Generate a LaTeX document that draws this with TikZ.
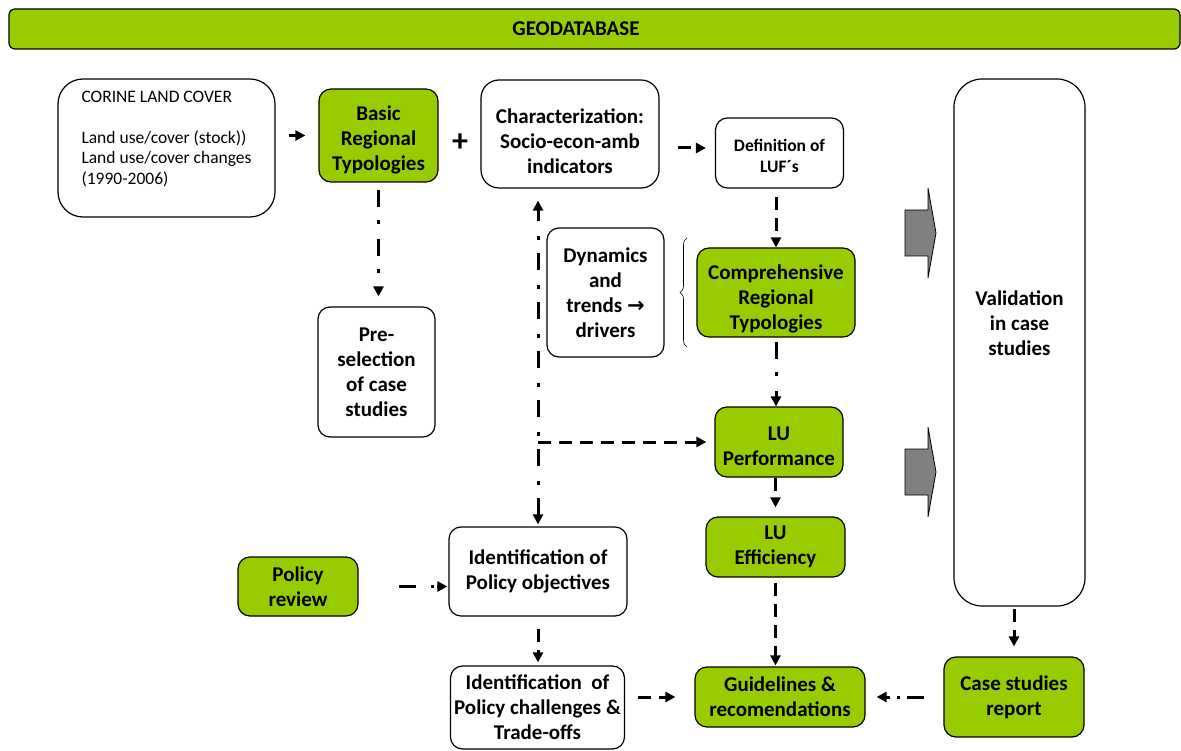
\documentclass[tikz,border=0pt]{standalone}
\usepackage{fontspec}
\setmainfont{Carlito}
\newfontfamily\symfont{DejaVu Sans}
\usetikzlibrary{arrows.meta, decorations.pathreplacing}
\definecolor{geoGreen}{RGB}{153,204,0}
\definecolor{geoGray}{RGB}{128,128,128}

\begin{document}
\begin{tikzpicture}[
    x=1pt, y=-1pt,
    box/.style={draw=black, line width=1.2pt, rounded corners=12pt, align=center, inner sep=0pt,
      font=\fontsize{21}{25}\selectfont\bfseries},
    greenbox/.style={box, fill=geoGreen},
    smallbox/.style={box, font=\fontsize{17.5}{21}\selectfont\bfseries},
    link/.style={line width=3pt, -{Triangle[width=10pt,length=10pt]}},
    dashlink/.style={link, dash pattern=on 13pt off 8pt},
    dotlink/.style={link, dash pattern=on 17pt off 13pt on 4pt off 15pt},
    blockarrow/.style={fill=geoGray, draw=black, line width=0.8pt}
  ]
  \useasboundingbox (0,0) rectangle (1181,751);

  \node[greenbox, rounded corners=6pt, minimum width=1171pt, minimum height=40pt] (geobar) at (594.5,29) {};
  \node[font=\fontsize{21}{24}\selectfont\bfseries] (geo) at (576,29) {GEODATABASE};

  \node[box, align=left, rounded corners=25pt, minimum width=217pt, minimum height=138pt,
    font=\fontsize{17.5}{20.5}\selectfont] (corine) at (166.5,148)
    {CORINE LAND COVER\\[20.5pt]Land use/cover (stock))\\Land use/cover changes\\(1990-2006)\\ \mbox{}};
  \node[greenbox, minimum width=119pt, minimum height=93pt] (basic) at (378.5,135.5)
    {\mbox{}\\[-1pt]Basic\\Regional\\Typologies};
  \node[font=\fontsize{32}{34}\selectfont\bfseries] (plus) at (460,143) {+};
  \node[box, rounded corners=18pt, minimum width=178pt, minimum height=108pt] (char) at (570,134)
    {\mbox{}\\[5pt]Characterization:\\Socio-econ-amb\\indicators};
  \node[smallbox, minimum width=128pt, minimum height=70pt] (luf) at (779.5,153)
    {\mbox{}\\[-2pt]Definition of\\LUF´s};
  \node[box, minimum width=117pt, minimum height=129pt] (dyn) at (605.5,292.5)
    {Dynamics\\and\\trends {\symfont\bfseries →}\\drivers};
  \node[greenbox, minimum width=158pt, minimum height=89pt] (comp) at (776,292.5)
    {\mbox{}\\[3pt]Comprehensive\\Regional\\Typologies};
  \node[box, minimum width=117pt, minimum height=130pt] (presel) at (376.5,372) {Pre-\\selection\\of case\\studies};
  \node[greenbox, minimum width=128pt, minimum height=70pt] (perf) at (779,442) {\mbox{}\\[-3pt]LU\\Performance};
  \node[greenbox, minimum width=139pt, minimum height=60pt] (eff) at (775.5,547) {LU\\Efficiency};
  \node[greenbox, minimum width=120pt, minimum height=59pt] (policy) at (298,586.5) {Policy\\review};
  \node[box, minimum width=178pt, minimum height=89pt] (ident) at (538,571.5) {Identification of\\Policy objectives};
  \node[box, minimum width=174pt, minimum height=83pt] (chall) at (537.5,707.5)
    {Identification\ \ of\\Policy challenges \&\\Trade-offs};
  \node[greenbox, minimum width=170pt, minimum height=60pt] (guide) at (780,697) {Guidelines \&\\recomendations};
  \node[box, rounded corners=28pt, minimum width=131pt, minimum height=527pt] (valid) at (1019.5,342.5)
    {Validation\\in case\\studies\\[13pt]\mbox{}};
  \node[greenbox, minimum width=140pt, minimum height=80pt] (report) at (1014,697) {Case studies\\report};

  % grey block arrows towards the validation
  \foreach \ay in {233,472}
    \draw[blockarrow] (905,\ay-23) -- ++(23,0) -- ++(0,-22) -- ++(8,45) -- ++(-8,45) -- ++(0,-22) -- ++(-23,0) -- cycle;

  \draw[line width=0.6pt, decorate, decoration={brace, amplitude=7pt}] (687,347) -- (687,238);

  \draw[link, shorten <=13pt, shorten >=13pt] (corine.east |- basic) -- (basic);
  \draw[dashlink, shorten <=18pt, shorten >=9pt] ([yshift=-14pt]char.east) -- ([yshift=-14pt]char.east -| luf.west);
  \draw[dotlink, shorten <=7pt, shorten >=10pt] (basic.south) -- (basic.south |- presel.north);
  \draw[dashlink, shorten <=8pt] (luf.south -| comp) -- (comp.north);
  \draw[dotlink, shorten <=4pt] (comp.south) -- (comp.south |- perf.north);
  \draw[dashlink, shorten >=9pt] (perf.south -| eff) -- (eff.north);
  \draw[dashlink, shorten <=5pt, shorten >=1pt] (eff.south) -- (eff.south |- guide.north);
  \draw[dotlink, {Triangle[width=10pt,length=10pt]}-{Triangle[width=10pt,length=10pt]},
    shorten <=2pt, shorten >=12pt] (ident.north) -- (ident.north |- char.south);
  \draw[dashlink, shorten >=8pt] (ident.north |- perf.west) -- (perf.west);
  \draw[dashlink, dash pattern=on 17pt off 15pt on 3pt off 3pt, shorten <=40pt, shorten >=1pt]
    (policy.east) -- (policy.east -| ident.west);
  \draw[dashlink, shorten <=12pt, shorten >=3pt] (ident.south) -- (ident.south |- chall.north);
  \draw[dashlink, shorten <=13pt, shorten >=19pt] (chall.east |- guide.west) -- (guide.west);
  \draw[dashlink, dash pattern=on 17pt off 7pt on 3pt off 7pt, shorten <=19pt, shorten >=11pt] (report) -- (guide);
  \draw[dashlink, shorten <=2pt, shorten >=10pt] (valid.south -| report) -- (report.north);
\end{tikzpicture}
\end{document}
